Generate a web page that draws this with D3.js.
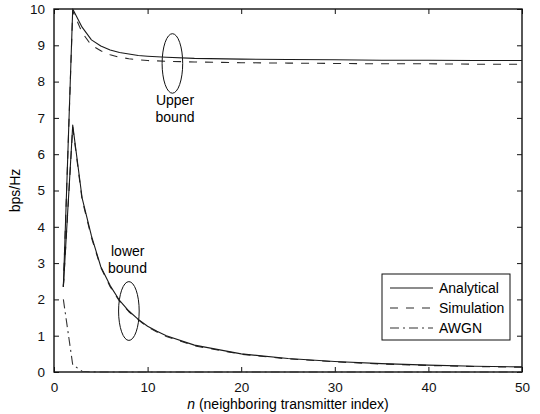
<!DOCTYPE html>
<html>
<head>
<meta charset="utf-8">
<script src="https://cdn.jsdelivr.net/npm/d3@7"></script>
<style>
  body { margin: 0; background: #fff; }
  svg { font-family: "Liberation Sans", Arial, sans-serif; }
</style>
</head>
<body>
<div id="chart"></div>
<script>
// sample points along n
var nValues = [1, 2, 3, 4, 5, 6, 7, 8, 9, 10, 11, 12, 15, 20, 25, 30, 35, 40, 45, 50];

var upperAnalytical = [2.35, 10, 9.5, 9.15, 8.98, 8.87, 8.8, 8.76, 8.72, 8.7, 8.685, 8.67, 8.64, 8.62, 8.61, 8.6, 8.59, 8.59, 8.58, 8.58];
var upperSimulation = [2.35, 9.95, 9.35, 9.0, 8.85, 8.74, 8.67, 8.63, 8.6, 8.58, 8.57, 8.56, 8.54, 8.52, 8.51, 8.5, 8.49, 8.49, 8.48, 8.48];
var lowerAnalytical = [2.35, 6.8, 4.8, 3.75, 2.9, 2.38, 1.97, 1.68, 1.45, 1.26, 1.12, 1.0, 0.74, 0.5, 0.37, 0.29, 0.23, 0.19, 0.16, 0.14];
var lowerSimulation = [2.35, 6.75, 4.75, 3.7, 2.88, 2.35, 1.95, 1.66, 1.44, 1.24, 1.1, 0.98, 0.72, 0.49, 0.36, 0.28, 0.22, 0.18, 0.15, 0.13];
var awgn = [2.0, 0.2, 0.02, 0.005, 0, 0, 0, 0, 0, 0, 0, 0, 0, 0, 0, 0, 0, 0, 0, 0];

var xTicks = [0, 10, 20, 30, 40, 50];
var yTicks = [0, 1, 2, 3, 4, 5, 6, 7, 8, 9, 10];

var legendNames = ["Analytical", "Simulation", "AWGN"];

function render() {
  var w = 540, h = 414;
  var pLeft = 54, pRight = 522, pTop = 9, pBottom = 372;

  var svg = d3.select("#chart").append("svg")
      .attr("width", w)
      .attr("height", h);

  var x = d3.scaleLinear().domain([0, 50]).range([pLeft, pRight]);
  var y = d3.scaleLinear().domain([0, 10]).range([pBottom, pTop]);

  var styles = {
    solid: { dash: null, color: "#1a1a1a" },
    dashed: { dash: "8,8", color: "#2a2a2a" },
    dashdot: { dash: "9,4,2,4", color: "#333" }
  };

  // axes, ticks inward on all four sides
  var tickLen = 5;
  svg.append("g")
      .attr("transform", "translate(0," + pBottom + ")")
      .call(d3.axisBottom(x).tickValues(xTicks).tickSizeInner(-tickLen).tickSizeOuter(0).tickPadding(10))
      .call(function(g) { g.select(".domain").remove(); });
  svg.append("g")
      .attr("transform", "translate(0," + pTop + ")")
      .call(d3.axisTop(x).tickValues(xTicks).tickSizeInner(-tickLen).tickSizeOuter(0).tickFormat(""))
      .call(function(g) { g.select(".domain").remove(); });
  svg.append("g")
      .attr("transform", "translate(" + pLeft + ",0)")
      .call(d3.axisLeft(y).tickValues(yTicks).tickSizeInner(-tickLen).tickSizeOuter(0).tickPadding(9))
      .call(function(g) { g.select(".domain").remove(); });
  svg.append("g")
      .attr("transform", "translate(" + pRight + ",0)")
      .call(d3.axisRight(y).tickValues(yTicks).tickSizeInner(-tickLen).tickSizeOuter(0).tickFormat(""))
      .call(function(g) { g.select(".domain").remove(); });

  svg.selectAll(".tick text")
      .style("font-size", "13.5px")
      .style("font-family", "'Liberation Sans', Arial, sans-serif")
      .attr("fill", "#111");
  svg.selectAll(".tick line").attr("stroke", "#111");

  svg.append("rect")
      .attr("x", pLeft).attr("y", pTop)
      .attr("width", pRight - pLeft).attr("height", pBottom - pTop)
      .attr("fill", "none")
      .attr("stroke", "#111")
      .attr("stroke-width", 1.4);

  // curves: straight segments between samples, like the original plot
  var line = d3.line()
      .x(function(d) { return x(d[0]); })
      .y(function(d) { return y(d[1]); });

  function drawSeries(vals, st) {
    svg.append("path")
        .datum(nValues.map(function(n, i) { return [n, vals[i]]; }))
        .attr("d", line)
        .attr("fill", "none")
        .attr("stroke", st.color)
        .attr("stroke-width", 1.1)
        .attr("stroke-linejoin", "round")
        .attr("stroke-dasharray", st.dash);
  }

  drawSeries(upperSimulation, styles.dashed);
  drawSeries(lowerSimulation, styles.dashed);
  drawSeries(awgn, styles.dashdot);
  drawSeries(upperAnalytical, styles.solid);
  drawSeries(lowerAnalytical, styles.solid);

  // annotations
  function ellipse(cx, cy, rx, ry) {
    svg.append("ellipse")
        .attr("cx", x(cx)).attr("cy", y(cy))
        .attr("rx", x(rx) - x(0)).attr("ry", y(0) - y(ry))
        .attr("fill", "none")
        .attr("stroke", "#111")
        .attr("stroke-width", 1);
  }
  ellipse(12.65, 8.5, 1.1, 0.82);
  ellipse(8.0, 1.68, 1.1, 0.81);

  svg.append("text").attr("x", 175).attr("y", 105)
      .attr("text-anchor", "middle").style("font-size", "14px").text("Upper");
  svg.append("text").attr("x", 175).attr("y", 122)
      .attr("text-anchor", "middle").style("font-size", "14px").text("bound");
  svg.append("text").attr("x", 111).attr("y", 256)
      .style("font-size", "14px").text("lower");
  svg.append("text").attr("x", 108).attr("y", 273)
      .style("font-size", "14px").text("bound");

  // legend
  var lg = svg.append("g");
  lg.append("rect")
      .attr("x", 382).attr("y", 274)
      .attr("width", 128).attr("height", 66)
      .attr("fill", "#fff")
      .attr("stroke", "#111")
      .attr("stroke-width", 1);
  var legendStyles = [styles.solid, styles.dashed, styles.dashdot];
  legendNames.forEach(function(name, i) {
    var ly = 288 + i * 20;
    lg.append("line")
        .attr("x1", 390).attr("x2", 433)
        .attr("y1", ly).attr("y2", ly)
        .attr("stroke", legendStyles[i].color)
        .attr("stroke-width", 1.1)
        .attr("stroke-dasharray", legendStyles[i].dash);
    lg.append("text")
        .attr("x", 439).attr("y", ly)
        .attr("dy", "0.35em")
        .style("font-size", "14px")
        .text(name);
  });

  // axis titles
  svg.append("text")
      .attr("transform", "translate(15," + ((pTop + pBottom) / 2) + ") rotate(-90)")
      .attr("text-anchor", "middle")
      .attr("dy", "0.35em")
      .style("font-size", "14px")
      .text("bps/Hz");

  var xl = svg.append("text")
      .attr("x", (pLeft + pRight) / 2)
      .attr("y", 409)
      .attr("text-anchor", "middle")
      .style("font-size", "14px");
  xl.append("tspan").style("font-style", "italic").text("n");
  xl.append("tspan").text(" (neighboring transmitter index)");
}

render();
</script>
</body>
</html>
